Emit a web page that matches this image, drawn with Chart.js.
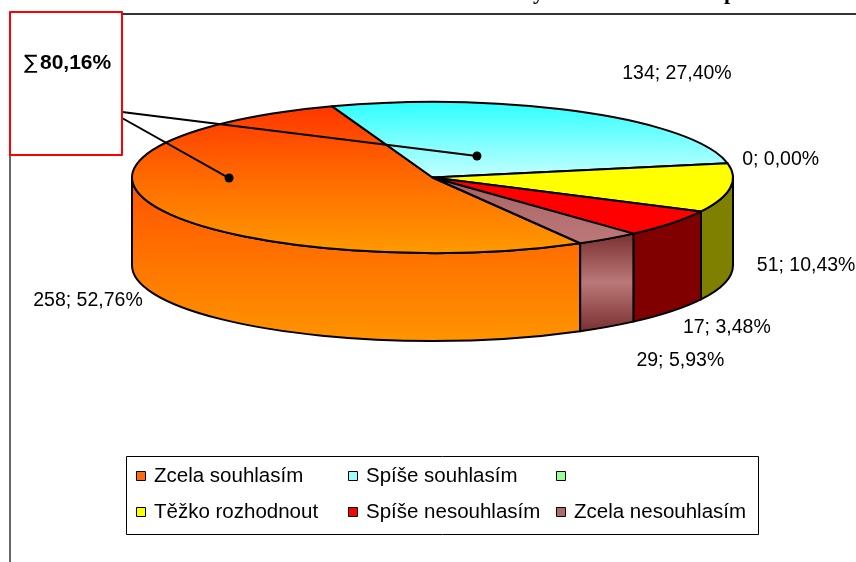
<!DOCTYPE html>
<html lang="cs">
<head>
<meta charset="UTF-8">
<title>Hodnocení</title>
<script src="https://cdn.jsdelivr.net/npm/chart.js"></script>
<style>
  body { margin: 0; background: #fff; }
  canvas { display: block; }
</style>
</head>
<body>
<canvas id="graf" width="856" height="562"></canvas>
<script>
// data z grafu
const kategorie = ['Zcela souhlasím', 'Spíše souhlasím', '', 'Těžko rozhodnout', 'Spíše nesouhlasím', 'Zcela nesouhlasím'];
const pocty = [258, 134, 0, 51, 29, 17];

// barvy (horní plocha, bok, legenda)
const barvyHore = [['#ff3300', '#ff6a00', '#ff9a00'], ['#2effff', '#c4ffff', '#ffffff'], ['#99ff99'], ['#ffff00'], ['#ff0000'], ['#8e4a4a', '#c07c7c']];
const barvyBok = [['#ff5200', '#ff9400'], ['#66cccc'], ['#66cc66'], ['#808000'], ['#800000'], ['#7a3030', '#bb7878', '#7a3030']];
const barvyLegenda = ['#ff6a10', '#9effff', '#99ff99', '#ffff00', '#ff0000', '#b06a6a'];

// posun popisků od okraje výseče
const posunPopisku = [[-71, 92], [95, -38], [53, -4], [76, 78], [9, 137], [119, 89]];

const HLOUBKA = 88;       // výška válce
const POMER = 3.98;       // rx / ry

const soucet = pocty.reduce((a, b) => a + b, 0);
const procenta = v => (v / soucet * 100).toFixed(2).replace('.', ',');

function gradient(ctx, y0, y1, barvy) {
    if (barvy.length === 1) return barvy[0];
    const g = ctx.createLinearGradient(0, y0, 0, y1);
    barvy.forEach((b, i) => g.addColorStop(i / (barvy.length - 1), b));
    return g;
}

const pie3d = {
    id: 'pie3d',
    beforeDatasetsDraw() { return false; },
    afterDraw(chart) {
        const ctx = chart.ctx;
        const oblouky = chart.getDatasetMeta(0).data;
        const cx = oblouky[0].x, cy = oblouky[0].y;
        const ry = oblouky[0].outerRadius, rx = ry * POMER;
        const bod = (a, dy) => [cx + rx * Math.cos(a), cy + ry * Math.sin(a) + (dy || 0)];

        ctx.save();
        ctx.lineJoin = 'round';

        // zbytky titulku (oříznuté)
        ctx.fillStyle = '#000';
        ctx.font = 'bold 22px "Liberation Serif", serif';
        ctx.textBaseline = 'alphabetic';
        ctx.fillText('y', 533, -1);
        ctx.fillText('p', 724, -1);

        // rám oblasti grafu
        ctx.strokeStyle = '#333';
        ctx.lineWidth = 2;
        ctx.beginPath(); ctx.moveTo(122, 14); ctx.lineTo(856, 14); ctx.stroke();
        ctx.lineWidth = 1.5;
        ctx.beginPath(); ctx.moveTo(10, 150); ctx.lineTo(10, 562); ctx.stroke();

        // boky válce (jen přední polovina)
        ctx.strokeStyle = '#000';
        ctx.lineWidth = 2;
        oblouky.forEach((arc, i) => {
            const s = arc.startAngle, e = arc.endAngle;
            for (let k = -1; k <= 2; k++) {
                const lo = Math.max(s, 2 * Math.PI * k), hi = Math.min(e, 2 * Math.PI * k + Math.PI);
                if (hi - lo < 1e-6) continue;
                const p1 = bod(lo), p2 = bod(hi);
                const yTop = Math.min(p1[1], p2[1]);
                const yBot = Math.max(cy + ry * Math.sin(Math.min(Math.max(Math.PI / 2 + 2 * Math.PI * k, lo), hi)), p1[1], p2[1]) + HLOUBKA;
                ctx.beginPath();
                ctx.ellipse(cx, cy, rx, ry, 0, lo, hi);
                ctx.lineTo(p2[0], p2[1] + HLOUBKA);
                ctx.ellipse(cx, cy + HLOUBKA, rx, ry, 0, hi, lo, true);
                ctx.closePath();
                ctx.fillStyle = gradient(ctx, yTop, yBot, barvyBok[i]);
                ctx.fill();
                ctx.stroke();
            }
        });

        // horní plochy výsečí
        oblouky.forEach((arc, i) => {
            if (arc.endAngle - arc.startAngle < 1e-6) return;
            ctx.beginPath();
            ctx.moveTo(cx, cy);
            ctx.ellipse(cx, cy, rx, ry, 0, arc.startAngle, arc.endAngle);
            ctx.closePath();
            ctx.fillStyle = gradient(ctx, cy - ry, cy + ry, barvyHore[i]);
            ctx.fill();
            ctx.stroke();
        });

        // popisky hodnot
        ctx.fillStyle = '#000';
        ctx.font = '19.5px "Liberation Sans", Arial, sans-serif';
        ctx.textAlign = 'center';
        ctx.textBaseline = 'middle';
        oblouky.forEach((arc, i) => {
            const p = bod((arc.startAngle + arc.endAngle) / 2);
            ctx.fillText(pocty[i] + '; ' + procenta(pocty[i]) + '%', p[0] + posunPopisku[i][0], p[1] + posunPopisku[i][1]);
        });

        // odkazové čáry k rámečku se součtem
        const odkazy = [{ fx: 0.148, fy: -0.285, z: [122, 112] }, { fx: -0.677, fy: 0.007, z: [122, 118] }];
        ctx.lineWidth = 2;
        odkazy.forEach(o => {
            const x = cx + rx * o.fx, y = cy + ry * o.fy;
            ctx.beginPath(); ctx.moveTo(o.z[0], o.z[1]); ctx.lineTo(x, y); ctx.stroke();
            ctx.beginPath(); ctx.arc(x, y, 4.5, 0, Math.PI * 2); ctx.fill();
        });

        // rámeček se součtem
        ctx.fillStyle = '#fff';
        ctx.fillRect(10, 12, 112, 143);
        ctx.strokeStyle = '#ff0000';
        ctx.lineWidth = 2;
        ctx.strokeRect(10, 12, 112, 143);
        const suma = ((pocty[0] + pocty[1]) / soucet * 100).toFixed(2).replace('.', ',');
        ctx.fillStyle = '#000';
        ctx.textAlign = 'left';
        ctx.font = '20px "DejaVu Sans", sans-serif';
        ctx.fillText('∑', 24, 64);
        ctx.font = 'bold 21px "Liberation Sans", Arial, sans-serif';
        ctx.fillText(suma + '%', 40, 63);

        // legenda
        ctx.strokeStyle = '#000';
        ctx.lineWidth = 1;
        ctx.strokeRect(126.5, 456.5, 632, 78);
        const sloupce = [136, 348, 556], radky = [476, 512];
        ctx.font = '20.5px "Liberation Sans", Arial, sans-serif';
        kategorie.forEach((nazev, i) => {
            const x = sloupce[i % 3], y = radky[Math.floor(i / 3)];
            ctx.fillStyle = barvyLegenda[i];
            ctx.fillRect(x, y - 5, 9, 9);
            ctx.strokeRect(x + 0.5, y - 4.5, 9, 9);
            ctx.fillStyle = '#000';
            ctx.fillText(nazev, x + 18, y);
        });
        ctx.restore();
    }
};

new Chart(document.getElementById('graf'), {
    type: 'pie',
    data: {
        labels: kategorie,
        datasets: [{ data: pocty, backgroundColor: barvyLegenda, borderWidth: 0 }]
    },
    options: {
        responsive: false,
        animation: false,
        rotation: 150.56,
        layout: { padding: { left: 132, right: 123, top: 102, bottom: 309 } },
        plugins: { legend: { display: false }, tooltip: { enabled: false } }
    },
    plugins: [pie3d]
});
</script>
</body>
</html>
